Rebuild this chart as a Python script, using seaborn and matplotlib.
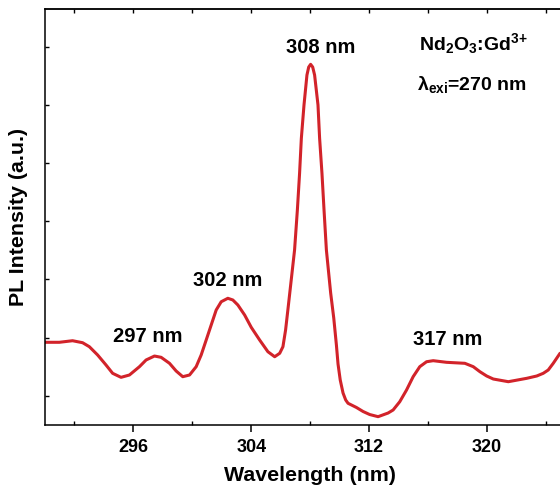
import numpy as np
import pandas as pd
import matplotlib
matplotlib.use("Agg")
import matplotlib.pyplot as plt
import seaborn as sns

# emission spectrum (wavelength in nm, intensity in a.u.)
wavelength = [289.95, 290.97, 291.87, 292.55, 293.01, 293.57, 294.14, 294.59,
              295.16, 295.73, 296.41, 296.86, 297.43, 297.88, 298.45, 298.90,
              299.35, 299.81, 300.26, 300.60, 300.94, 301.28, 301.62, 301.96,
              302.41, 302.75, 303.09, 303.55, 304.00, 304.57, 305.13, 305.59,
              305.93, 306.15, 306.33, 306.50, 306.69, 306.94, 307.13, 307.28,
              307.40, 307.58, 307.78, 307.90, 308.03, 308.17, 308.30, 308.53,
              308.64, 308.80, 308.94, 309.10, 309.39, 309.60, 309.78, 309.89,
              310.04, 310.23, 310.41, 310.57, 311.14, 311.59, 312.04, 312.61,
              313.29, 313.63, 314.08, 314.54, 314.99, 315.44, 315.90, 316.35,
              317.26, 318.50, 319.07, 319.52, 319.98, 320.43, 321.45, 322.70,
              323.38, 323.82, 324.16, 324.50, 324.96]
intensity = [1421, 1421, 1448, 1414, 1345, 1203, 1031, 888,
             819, 859, 1002, 1117, 1185, 1163, 1060, 928,
             830, 859, 1002, 1203, 1460, 1718, 1976, 2118,
             2177, 2148, 2062, 1890, 1678, 1460, 1259, 1173,
             1232, 1345, 1632, 2010, 2440, 3007, 3694, 4324,
             4926, 5498, 6013, 6150, 6197, 6150, 6013, 5498,
             4926, 4324, 3694, 3007, 2268, 1838, 1374, 1048,
             773, 550, 430, 373, 301, 232, 180, 143,
             206, 258, 400, 601, 830, 1002, 1087, 1105,
             1077, 1060, 1002, 916, 842, 790, 744, 802,
             842, 888, 945, 1060, 1232]

peak_labels = ["297 nm", "302 nm", "308 nm", "317 nm"]
peak_x = [296.95, 302.39, 308.71, 317.35]
peak_y = [1512, 2491, 6494, 1477]

x_ticks = [296, 304, 312, 320]
x_minor = [292, 300, 308, 316, 324]
y_ticks = [500, 1500, 2500, 3500, 4500, 5500, 6500]

df = pd.DataFrame({"wavelength": wavelength, "intensity": intensity})

sns.set_theme(style="white")
plt.rcParams["font.family"] = ["Liberation Sans", "DejaVu Sans"]
plt.rcParams["font.weight"] = "bold"
plt.rcParams["mathtext.default"] = "regular"
plt.rcParams["text.color"] = "black"
plt.rcParams["axes.labelcolor"] = "black"

fig = plt.figure(figsize=(5.6, 4.88), dpi=100)
ax = fig.add_axes([0.0804, 0.1291, 0.947, 0.8525])

sns.lineplot(data=df, x="wavelength", y="intensity", sort=False,
             color="#d2232a", linewidth=2.2, ax=ax)

ax.set_xlim(290, 326)
ax.set_ylim(0, 7148)

for s in ax.spines.values():
    s.set_color("black")
    s.set_linewidth(1.1)

ax.set_xticks(x_ticks)
ax.set_xticks(x_minor, minor=True)
ax.set_xticklabels([str(t) for t in x_ticks])
ax.tick_params(axis="x", which="major", direction="out", length=5, width=1.1,
               pad=5, labelsize=13, colors="black", bottom=True)
ax.tick_params(axis="x", which="minor", direction="in", length=3, width=1.0,
               bottom=True, colors="black")
ax.set_yticks(y_ticks)
ax.set_yticklabels([])
ax.tick_params(axis="y", which="major", direction="in", length=3, width=1.0,
               left=True, colors="black")

top = ax.secondary_xaxis("top")
top.set_xticks(x_minor + x_ticks)
top.tick_params(direction="in", length=3, width=1.0, labeltop=False,
                colors="black")
top.spines["top"].set_linewidth(1.1)

ax.set_xlabel("Wavelength (nm)", fontsize=15.4, fontweight="bold", labelpad=7)
ax.set_ylabel("PL Intensity (a.u.)", fontsize=15.4, fontweight="bold", labelpad=9)

for lab, px, py in zip(peak_labels, peak_x, peak_y):
    ax.text(px, py, lab, ha="center", va="center", fontsize=14.5,
            fontweight="bold", color="black")

ax.text(319.07, 6443, "Nd$_2$O$_3$:Gd$^{3{+}}$", ha="center", va="baseline",
        fontsize=14, fontweight="bold", color="black")
ax.text(319.0, 5755, "λ$_{exi}$=270 nm", ha="center", va="baseline",
        fontsize=14, fontweight="bold", color="black")

fig.savefig("out.png", dpi=100)
